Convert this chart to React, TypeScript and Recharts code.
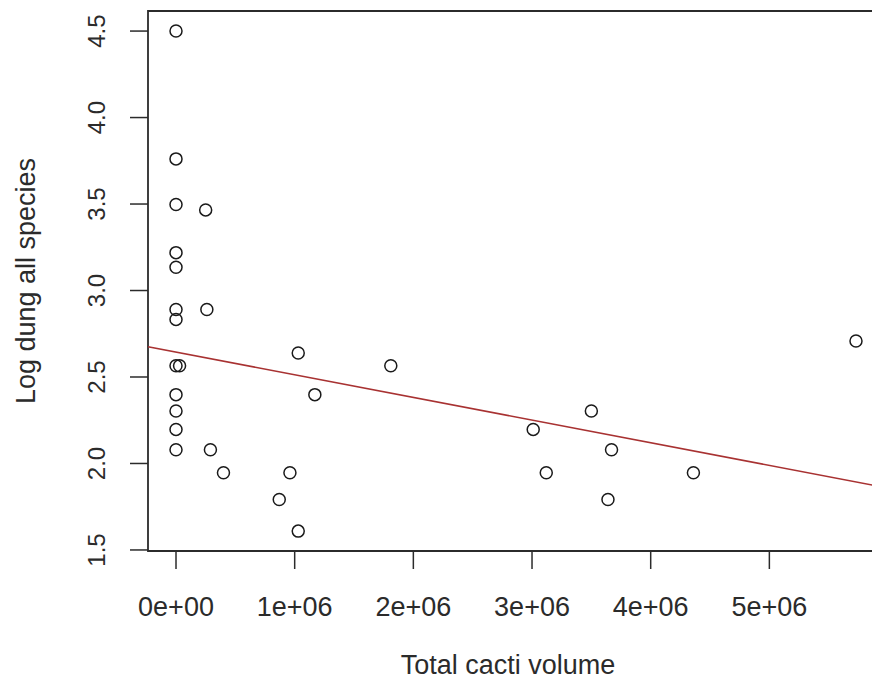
import React from 'react';
import {
  ScatterChart,
  Scatter,
  XAxis,
  YAxis,
  ReferenceLine,
  ReferenceArea,
} from 'recharts';

// values (x = total cacti volume, y = log dung)
const cactiVolume = [
  0, 0, 0, 0, 0, 0, 0, 0, 30000, 0, 0, 0, 0,
  250000, 260000, 290000, 400000, 870000, 960000, 1030000, 1030000, 1170000,
  1810000, 3010000, 3120000, 3500000, 3640000, 3670000, 4360000, 5730000,
];
const logDung = [
  4.5, 3.761, 3.497, 3.219, 3.135, 2.89, 2.833, 2.565, 2.565, 2.398, 2.303, 2.197, 2.079,
  3.466, 2.89, 2.079, 1.946, 1.792, 1.946, 1.609, 2.639, 2.398,
  2.565, 2.197, 1.946, 2.303, 1.792, 2.079, 1.946, 2.708,
];

const xTicks = [0, 1e6, 2e6, 3e6, 4e6, 5e6];
const xTickLabels = ['0e+00', '1e+06', '2e+06', '3e+06', '4e+06', '5e+06'];
const yTicks = [1.5, 2, 2.5, 3, 3.5, 4, 4.5];
const yTickLabels = ['1.5', '2.0', '2.5', '3.0', '3.5', '4.0', '4.5'];

// fitted line (lm)
const fitIntercept = 2.644;
const fitSlope = -1.31e-7;

const xDomain = [-236000, 5966000];
const yDomain = [1.494, 4.616];

const FONT = '"Liberation Sans", Arial, sans-serif';
const INK = '#2b2b2b';

const points = cactiVolume.map((v, i) => ({ volume: v, dung: logDung[i] }));

function OpenCircle({ cx, cy }: any) {
  return <circle cx={cx} cy={cy} r={6} fill="none" stroke="#1a1a1a" strokeWidth={1.5} />;
}

function YTick({ x, y, payload }: any) {
  const idx = yTicks.indexOf(payload.value);
  return (
    <text
      x={x}
      y={y}
      transform={`rotate(-90, ${x}, ${y})`}
      textAnchor="middle"
      fontSize={24}
      fontFamily={FONT}
      fill={INK}
    >
      {idx >= 0 ? yTickLabels[idx] : payload.value}
    </text>
  );
}

export default function App() {
  const xLo = xDomain[0];
  const xHi = xDomain[1];

  return (
    <div
      style={{
        position: 'absolute',
        left: 0,
        top: 0,
        width: 872,
        height: 695,
        overflow: 'hidden',
        background: '#fff',
      }}
    >
      <ScatterChart
        width={900}
        height={695}
        margin={{ top: 11, right: 16, bottom: 0, left: 0 }}
        style={{ fontFamily: FONT }}
      >
        <XAxis
          type="number"
          dataKey="volume"
          domain={xDomain}
          ticks={xTicks}
          allowDataOverflow
          height={144}
          axisLine={false}
          tickSize={18}
          tickMargin={28}
          tickLine={{ stroke: INK, strokeWidth: 1.5 }}
          tick={{ fontSize: 27, fill: INK, fontFamily: FONT }}
          tickFormatter={(v: number) => {
            const idx = xTicks.indexOf(v);
            return idx >= 0 ? xTickLabels[idx] : String(v);
          }}
          label={{
            value: 'Total cacti volume',
            position: 'insideBottom',
            offset: 21,
            dx: -8,
            fontSize: 27,
            fill: INK,
            fontFamily: FONT,
          }}
        />
        <YAxis
          type="number"
          dataKey="dung"
          domain={yDomain}
          ticks={yTicks}
          allowDataOverflow
          width={148}
          axisLine={false}
          tickSize={18}
          tickMargin={25}
          tickLine={{ stroke: INK, strokeWidth: 1.5 }}
          tick={<YTick />}
          label={{
            value: 'Log dung all species',
            angle: -90,
            position: 'insideLeft',
            offset: 25,
            textAnchor: 'middle',
            fontSize: 27,
            fill: INK,
            fontFamily: FONT,
          }}
        />
        <ReferenceArea
          x1={xLo}
          x2={xHi}
          y1={yDomain[0]}
          y2={yDomain[1]}
          fill="none"
          fillOpacity={0}
          stroke={INK}
          strokeWidth={1.8}
        />
        <ReferenceLine
          segment={[
            { x: xLo, y: fitIntercept + fitSlope * xLo },
            { x: xHi, y: fitIntercept + fitSlope * xHi },
          ]}
          stroke="#a83232"
          strokeWidth={1.6}
        />
        <Scatter data={points} shape={<OpenCircle />} isAnimationActive={false} />
      </ScatterChart>
    </div>
  );
}
